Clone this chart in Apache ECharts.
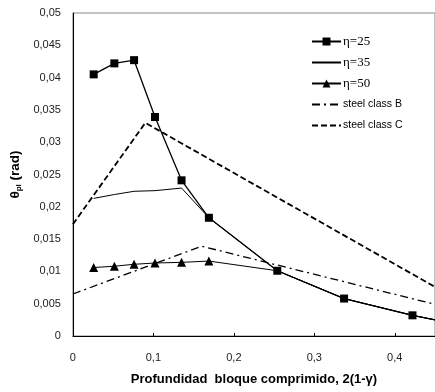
<!DOCTYPE html>
<html><head><meta charset="utf-8">
<script src="https://cdn.jsdelivr.net/npm/echarts@6/dist/echarts.min.js"></script>
<style>html,body{margin:0;padding:0;background:#fff}#c{width:435px;height:392px}</style>
</head><body><div id="c"></div>
<script>
// Data
const eta25 = [[0.0258,0.0405],[0.0515,0.0422],[0.076,0.0427],[0.102,0.0339],[0.135,0.0241],[0.169,0.0183],[0.254,0.0101],[0.337,0.0058],[0.422,0.0032]];
const eta25Tail = [0.45,0.0025];
const eta35 = [[0.0258,0.0213],[0.0515,0.0219],[0.076,0.0224],[0.102,0.0225],[0.135,0.0229],[0.169,0.0183],[0.254,0.0101],[0.337,0.0058],[0.422,0.0032],[0.45,0.0025]];
const eta50 = [[0.0258,0.0106],[0.0515,0.0108],[0.076,0.0111],[0.102,0.0113],[0.135,0.0114],[0.169,0.0116]];
const eta50Tail = [[0.254,0.0101],[0.337,0.0058],[0.422,0.0032],[0.45,0.0025]];
const steelB = [[0,0.0065],[0.16,0.0139],[0.45,0.0049]];
const steelC = [[0,0.0173],[0.09,0.033],[0.45,0.0076]];
const seriesNames = ['η=25','η=35','η=50','steel class B','steel class C'];

const fmt = v => String(+v.toFixed(4)).replace('.', ',');
const serifTxt = {fontFamily:'Liberation Serif', fontSize:13, lineHeight:13, color:'#000', padding:[0,0,0,-3]};
const sansTxt = {fontFamily:'Liberation Sans', fontSize:10.5, lineHeight:13, color:'#000', padding:[0,0,0,-3]};
const chart = echarts.init(document.getElementById('c'));
chart.setOption({
  animation:false,
  backgroundColor:'#fff',
  grid:{left:70, top:13, right:-2, bottom:56, show:true, borderColor:'#888', borderWidth:1},
  legend:{
    orient:'vertical', left:306, top:30, itemGap:8, itemWidth:29, itemHeight:10,
    data:[
      {name:seriesNames[0], textStyle:serifTxt},
      {name:seriesNames[1], textStyle:serifTxt, itemStyle:{opacity:0}},
      {name:seriesNames[2], textStyle:serifTxt},
      {name:seriesNames[3], textStyle:sansTxt, itemStyle:{opacity:0}},
      {name:seriesNames[4], textStyle:sansTxt, itemStyle:{opacity:0}}
    ]
  },
  xAxis:{
    type:'value', min:0, max:0.45, interval:0.1,
    name:'Profundidad  bloque comprimido, 2(1-γ)', nameLocation:'middle', nameGap:37,
    nameTextStyle:{fontFamily:'Liberation Sans', fontWeight:'bold', fontSize:13, color:'#000'},
    axisLine:{lineStyle:{color:'#000', width:1}},
    axisTick:{show:true, inside:true, length:3, lineStyle:{color:'#000'}},
    axisLabel:{formatter:fmt, margin:16, showMaxLabel:false, fontFamily:'Liberation Sans', fontSize:11, color:'#222'},
    splitLine:{show:false}
  },
  yAxis:{
    type:'value', min:0, max:0.05, interval:0.005,
    name:'{a|θ}{b|pl}{a| (rad)}', nameLocation:'middle', nameGap:47, nameRotate:90,
    nameTextStyle:{rich:{a:{fontFamily:'Liberation Sans', fontWeight:'bold', fontSize:13.5, color:'#000'},
                         b:{fontFamily:'Liberation Sans', fontWeight:'bold', fontSize:8, color:'#000', verticalAlign:'bottom', padding:[7,0,0,0]}}},
    axisLine:{show:true, lineStyle:{color:'#000', width:1}},
    axisTick:{show:false},
    axisLabel:{formatter:fmt, margin:12, fontFamily:'Liberation Sans', fontSize:11, color:'#222'},
    splitLine:{show:false}
  },
  series:[
    {name:seriesNames[0], type:'line', data:eta25.concat([{value:eta25Tail, symbol:'none'}]),
     symbol:'rect', symbolSize:8, itemStyle:{color:'#000'}, lineStyle:{color:'#000', width:1.3}, z:5},
    {name:seriesNames[1], type:'line', data:eta35, symbol:'none',
     itemStyle:{color:'#000'}, lineStyle:{color:'#000', width:1}, z:4},
    {name:seriesNames[2], type:'line', data:eta50.concat(eta50Tail.map(p => ({value:p, symbol:'none'}))), symbol:'triangle', symbolSize:9,
     itemStyle:{color:'#000'}, lineStyle:{color:'#000', width:1}, z:4},
    {name:seriesNames[3], type:'line', data:steelB, symbol:'none',
     itemStyle:{color:'#000'}, lineStyle:{color:'#000', width:1.3, type:[8,4,2,4]}, z:3},
    {name:seriesNames[4], type:'line', data:steelC, symbol:'none',
     itemStyle:{color:'#000'}, lineStyle:{color:'#000', width:1.8, type:[6,3]}, z:3}
  ]
});
</script></body></html>
